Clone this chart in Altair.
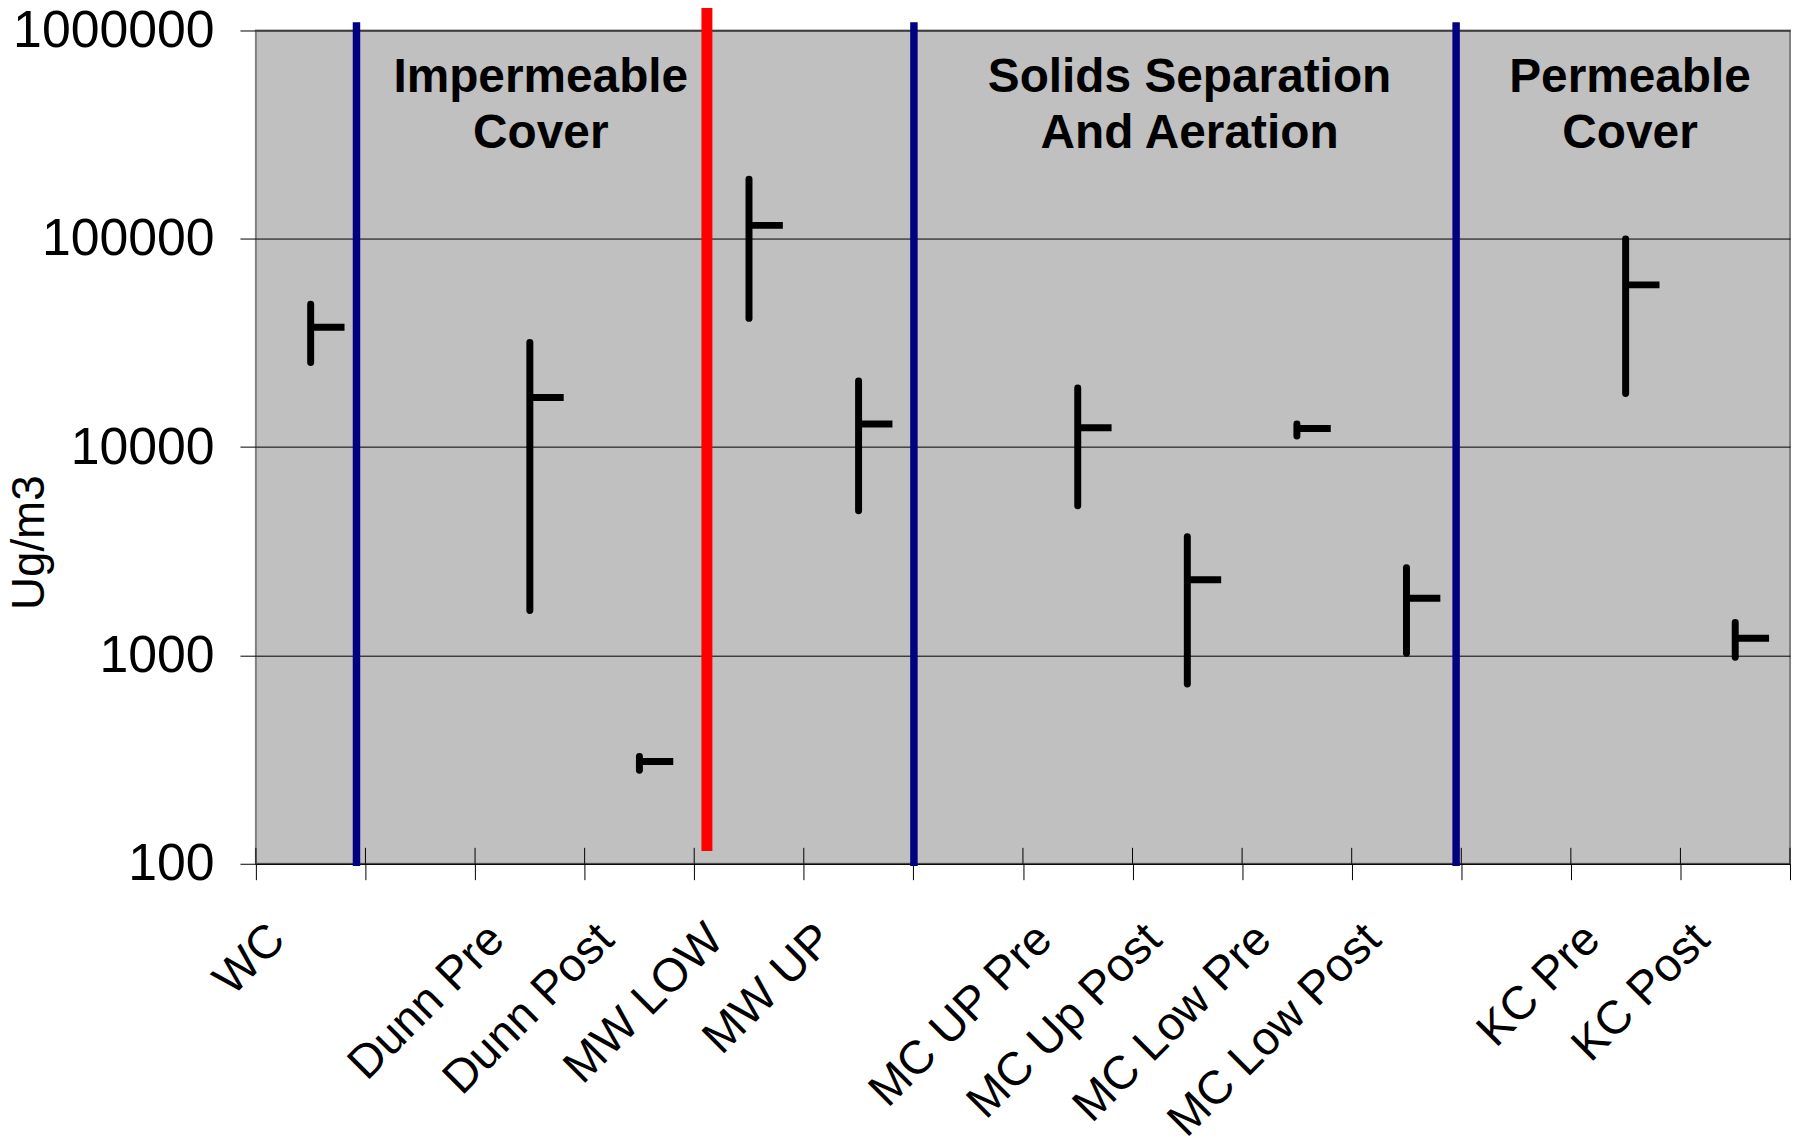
import json
import altair as alt
import pandas as pd

# ---------------- data ----------------
CATEGORIES = ["WC", "", "Dunn Pre", "Dunn Post", "MW LOW", "MW UP", "",
              "MC UP Pre", "MC Up Post", "MC Low Pre", "MC Low Post", "",
              "KC Pre", "KC Post"]
HIGH = [48500, None, 31800, 327, 193000, 20800, None,
        19200, 3710, 12900, 2640, None, 99700, 1440]
LOW = [25500, None, 1645, 281, 41500, 4950, None,
       5230, 730, 11300, 1025, None, 18100, 981]
CLOSE = [37600, None, 17300, 310, 116000, 12900, None,
         12400, 2310, 12300, 1880, None, 60100, 1210]

Y_TICKS = [100, 1000, 10000, 100000, 1000000]
Y_TITLE = "Ug/m3"

# separator lines (x in category units)
SEP_X = [0.918, 4.116, 6.005, 10.953]
SEP_LOW = [97.6, 115, 97.6, 97.6]
SEP_HIGH = [1.094e6, 1.35e6, 1.094e6, 1.094e6]
SEP_COLOR = ["#000080", "#FF0000", "#000080", "#000080"]
SEP_WIDTH = [7.5, 11, 7.5, 7.5]

# group annotations
ANNOT_TEXT = ["Impermeable\nCover", "Solids Separation\nAnd Aeration", "Permeable\nCover"]
ANNOT_X = [2.60, 8.52, 12.54]
ANNOT_Y = [589000, 589000, 589000]

# ---------------- layout ----------------
PLOT_W, PLOT_H = 1541, 837
FONT = "Liberation Sans"
TICK = 16

rows = []
for i, c in enumerate(CATEGORIES):
    if HIGH[i] is not None:
        rows.append(dict(cat=c, x=i + 0.5, high=HIGH[i], low=LOW[i], close=CLOSE[i]))
df = pd.DataFrame(rows)

bounds = pd.DataFrame({"b": list(range(len(CATEGORIES) + 1))})
seps = pd.DataFrame({"sx": SEP_X, "slow": SEP_LOW, "shigh": SEP_HIGH,
                     "scolor": SEP_COLOR, "swidth": SEP_WIDTH})
annots = pd.DataFrame({"ax": ANNOT_X, "ay": ANNOT_Y, "at": ANNOT_TEXT})

label_arr = "[" + ",".join(json.dumps(c) for c in CATEGORIES + [""]) + "]"

xs = alt.Scale(domain=[0, len(CATEGORIES)], nice=False, zero=False)
ys = alt.Scale(type="log", domain=[Y_TICKS[0], Y_TICKS[-1]], nice=False)

x_axis = alt.Axis(
    values=list(range(len(CATEGORIES) + 1)),
    labelExpr=label_arr + "[datum.value]",
    labelAngle=-45, labelAlign="right", labelBaseline="top",
    labelOffset=5, labelPadding=36, labelLimit=0,
    labelFont=FONT, labelFontSize=47, labelColor="black",
    labelFlush=False, labelOverlap=False, labelBound=False,
    tickSize=TICK, tickColor="black", tickWidth=1,
    domainColor="black", domainWidth=1, grid=False, title=None,
)
y_axis = alt.Axis(
    values=Y_TICKS, format="d",
    labelFont=FONT, labelFontSize=52, labelColor="black", labelPadding=26,
    labelFlush=False, labelOverlap=False, labelLimit=0,
    tickSize=TICK, tickColor="black", tickWidth=1,
    grid=True, gridColor="black", gridWidth=1, gridOpacity=1,
    domain=False,
    title=Y_TITLE, titleFont=FONT, titleFontSize=46, titleFontWeight="normal",
    titleColor="black", titleAngle=-90, titleX=-227, titleY=514, titleLimit=0,
    titleAlign="center", titleBaseline="middle",
)

inner_ticks = alt.Chart(bounds).mark_rule(color="black", strokeWidth=1).encode(
    x=alt.X("b:Q", scale=xs, axis=x_axis),
    y=alt.value(PLOT_H - TICK), y2=alt.value(PLOT_H),
)

separators = alt.Chart(seps).mark_rule(clip=False).encode(
    x=alt.X("sx:Q", scale=xs, axis=x_axis),
    y=alt.Y("slow:Q", scale=ys, axis=y_axis), y2="shigh:Q",
    color=alt.Color("scolor:N", scale=None),
    size=alt.Size("swidth:Q", scale=None),
)

hilo = alt.Chart(df).mark_rule(color="black", strokeWidth=7, strokeCap="round").encode(
    x=alt.X("x:Q", scale=xs, axis=x_axis),
    y=alt.Y("low:Q", scale=ys, axis=y_axis), y2="high:Q",
)

close = alt.Chart(df).mark_tick(color="black", orient="horizontal", size=34,
                                thickness=7, xOffset=17, opacity=1).encode(
    x=alt.X("x:Q", scale=xs, axis=x_axis),
    y=alt.Y("close:Q", scale=ys, axis=y_axis),
)

labels = alt.Chart(annots).mark_text(font=FONT, fontWeight="bold", fontSize=48,
                                     lineHeight=56, lineBreak="\n", align="center",
                                     baseline="middle", color="black").encode(
    x=alt.X("ax:Q", scale=xs, axis=x_axis),
    y=alt.Y("ay:Q", scale=ys, axis=y_axis),
    text="at:N",
)

chart = alt.layer(inner_ticks, separators, hilo, close, labels).properties(
    width=PLOT_W, height=PLOT_H,
    autosize=alt.AutoSizeParams(type="none"),
    padding={"left": 249, "top": 20, "right": 2, "bottom": 300},
    background="white",
).configure_view(fill="#C0C0C0", stroke="#808080", strokeWidth=2)

chart.save("out.html", embed_options={"renderer": "svg", "actions": False})
